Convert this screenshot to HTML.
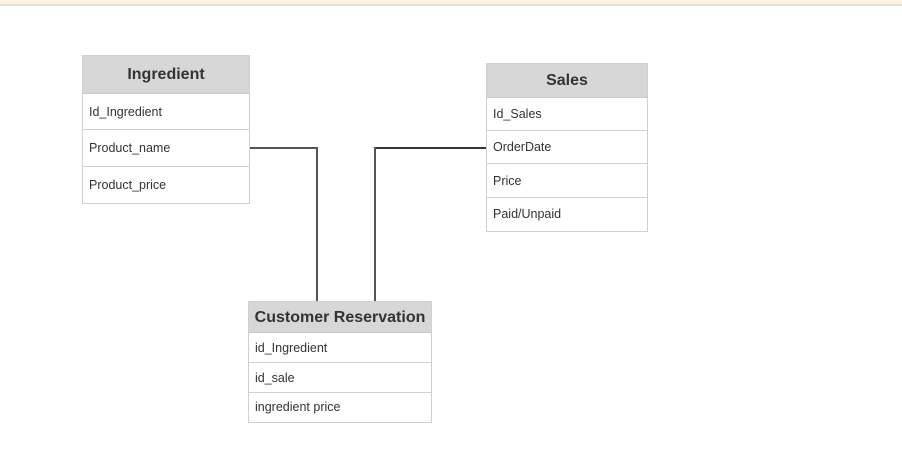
<!DOCTYPE html>
<html><head><meta charset="utf-8"><style>
body{margin:0;width:902px;height:470px;background:#fff;position:relative;overflow:hidden;font-family:"Liberation Sans",Arial,sans-serif;}
.t{position:absolute;background:#fff;border:1px solid #d0d0d0;box-sizing:border-box;}
.h{background:#d7d7d7;font-weight:bold;color:#333;text-align:center;border-bottom:1px solid #c8c8c8;box-sizing:border-box;}
.r{color:#333;font-size:12.5px;padding-left:6px;border-bottom:1px solid #d0d0d0;box-sizing:border-box;}
.r:last-child{border-bottom:none;}
.ln{position:absolute;background:#555;}
</style></head><body>
<div style="position:absolute;left:0;top:0;width:902px;height:4px;background:#fdf3dc"></div>
<div style="position:absolute;left:0;top:4px;width:902px;height:2px;background:#e2e2e2"></div>

<div class="ln" style="left:249px;top:147px;width:69px;height:1.5px"></div>
<div class="ln" style="left:316px;top:147px;width:1.5px;height:155px"></div>
<div class="ln" style="left:374px;top:147px;width:112px;height:1.5px;background:#333"></div>
<div class="ln" style="left:374px;top:147px;width:1.5px;height:155px"></div>

<div class="t" style="left:82px;top:55px;width:168px;height:149px">
<div class="h" style="height:38px;line-height:38px;font-size:16px">Ingredient</div>
<div class="r" style="height:36px;line-height:36px">Id_Ingredient</div>
<div class="r" style="height:37px;line-height:37px">Product_name</div>
<div class="r" style="height:36px;line-height:36px">Product_price</div>
</div>

<div class="t" style="left:486px;top:63px;width:162px;height:169px">
<div class="h" style="height:34px;line-height:34px;font-size:16px">Sales</div>
<div class="r" style="height:33px;line-height:33px">Id_Sales</div>
<div class="r" style="height:33px;line-height:33px">OrderDate</div>
<div class="r" style="height:34px;line-height:34px">Price</div>
<div class="r" style="height:33px;line-height:33px">Paid/Unpaid</div>
</div>

<div class="t" style="left:248px;top:301px;width:184px;height:122px">
<div class="h" style="height:31px;line-height:31px;font-size:16px">Customer Reservation</div>
<div class="r" style="height:30px;line-height:30px">id_Ingredient</div>
<div class="r" style="height:30px;line-height:30px">id_sale</div>
<div class="r" style="height:29px;line-height:29px">ingredient price</div>
</div>
</body></html>
